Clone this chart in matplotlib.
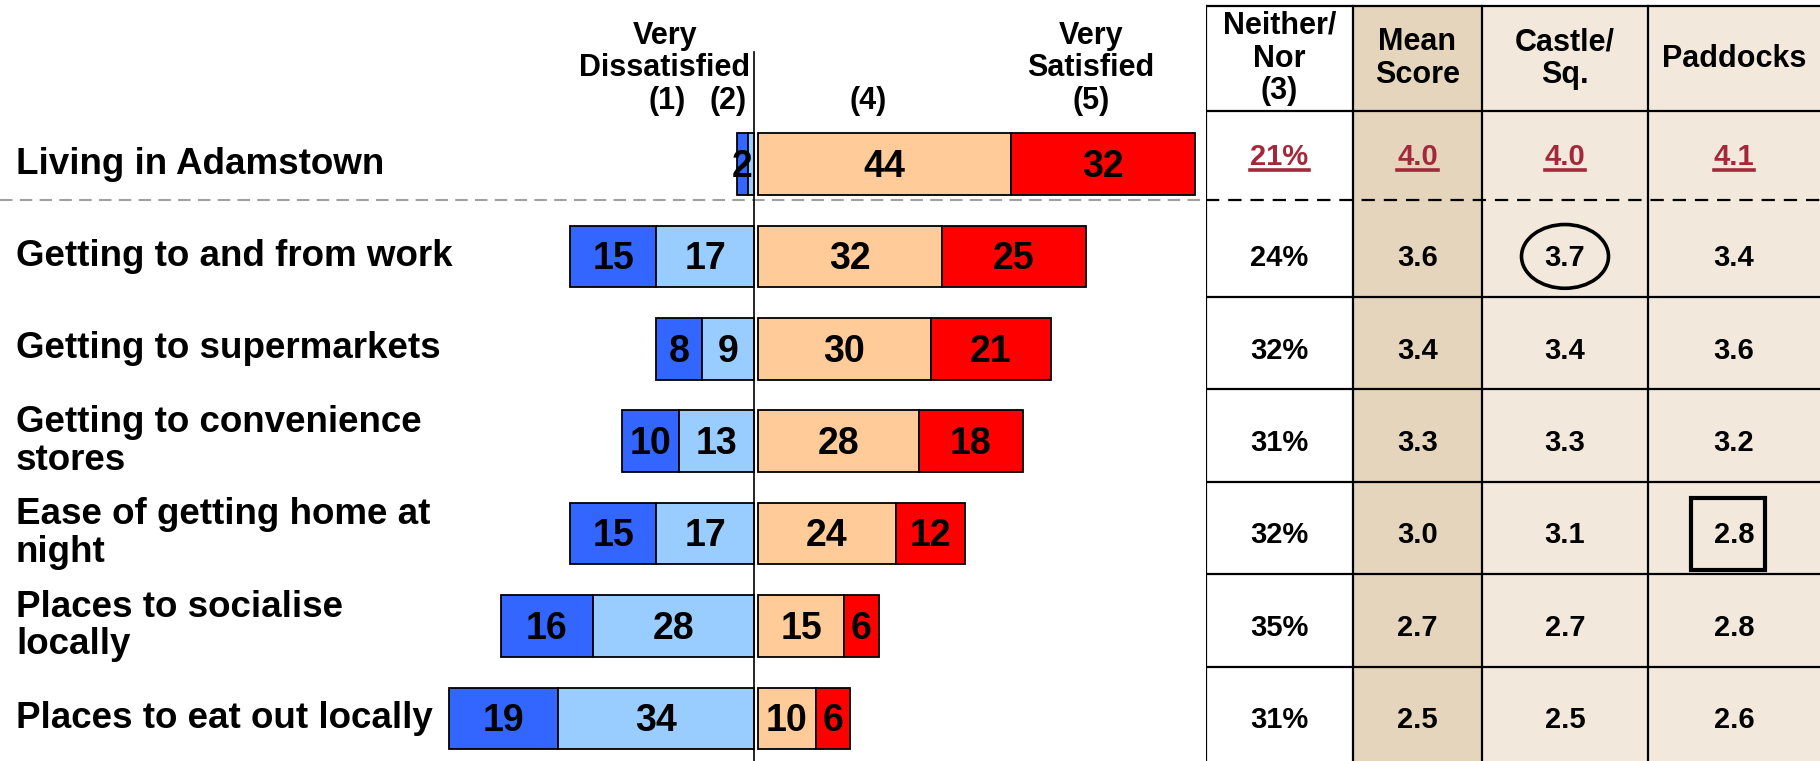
import numpy as np
import matplotlib
matplotlib.use('Agg')
import matplotlib.pyplot as plt
from matplotlib.patches import Rectangle, Ellipse
from matplotlib.lines import Line2D
from matplotlib.transforms import blended_transform_factory

plt.rcParams['font.family'] = ['Liberation Sans', 'DejaVu Sans']
plt.rcParams['font.weight'] = 'bold'

# survey items and answer shares (%)
items = ['Living in Adamstown', 'Getting to and from work', 'Getting to supermarkets',
         'Getting to convenience\nstores', 'Ease of getting home at\nnight',
         'Places to socialise\nlocally', 'Places to eat out locally']
very_dis = [2, 15, 8, 10, 15, 16, 19]
dis = [1, 17, 9, 13, 17, 28, 34]
sat = [44, 32, 30, 28, 24, 15, 10]
very_sat = [32, 25, 21, 18, 12, 6, 6]
# the thin "dissatisfied" sliver on the first row carries no label
dis_labelled = [False, True, True, True, True, True, True]

# table columns
neither = [21, 24, 32, 31, 32, 35, 31]
mean_score = [4.0, 3.6, 3.4, 3.3, 3.0, 2.7, 2.5]
castle = [4.0, 3.7, 3.4, 3.3, 3.1, 2.7, 2.5]
paddocks = [4.1, 3.4, 3.6, 3.2, 2.8, 2.8, 2.6]
col_heads = ['Neither/\nNor\n(3)', 'Mean\nScore', 'Castle/\nSq.', 'Paddocks']

W, H = 1820, 761
fig = plt.figure(figsize=(W / 100, H / 100), dpi=100)

# ---- diverging bars ----
px_unit = 5.75
zero_px = 754
split_px = 1206
ax = fig.add_axes([0, 0, split_px / W, 1])
ax.set_xlim(-zero_px / px_unit, (split_px - zero_px) / px_unit)
ylim = (6.461, -1.775)
ax.set_ylim(*ylim)
ax.axis('off')

n = len(items)
y = np.arange(n)
h = 0.666
gap = 0.7
vd = np.array(very_dis)
d = np.array(dis)
s = np.array(sat)
vs = np.array(very_sat)

segs = [
    (vd, -(vd + d), '#3366FF', [True] * n),
    (d, -d, '#99CCFF', dis_labelled),
    (s, np.full(n, gap), '#FFCC99', [True] * n),
    (vs, gap + s, '#FF0000', [True] * n),
]
for vals, lefts, col, show in segs:
    ax.barh(y, vals, left=lefts, height=h, color=col, edgecolor='black', linewidth=1.3, zorder=2)
    for yi, v, l, sh in zip(y, vals, lefts, show):
        if sh:
            ax.text(l + v / 2, yi + 0.03, str(v), ha='center', va='center',
                    fontsize=27, fontweight='bold', zorder=4)

ax.plot([0, 0], [-1.21, ylim[0]], color='black', lw=1.2, zorder=3)
ax.plot([ax.get_xlim()[0], ax.get_xlim()[1]], [0.39, 0.39], color='#A0A0A0',
        lw=1.5, ls=(0, (6, 3.5)), zorder=1)

tr = blended_transform_factory(ax.transAxes, ax.transData)
for yi, lab in zip(y, items):
    ax.text(16 / split_px, yi, lab, transform=tr, ha='left', va='center',
            fontsize=26.5, fontweight='bold', linespacing=1.1)


def ftext(xp, yp, s, **kw):
    fig.text(xp / W, 1 - yp / H, s, ha='center', va='center', fontweight='bold', **kw)


ftext(665, 52, 'Very\nDissatisfied', fontsize=22, linespacing=1.1)
ftext(667, 101, '(1)', fontsize=22)
ftext(728, 101, '(2)', fontsize=22)
ftext(868, 101, '(4)', fontsize=22)
ftext(1091, 52, 'Very\nSatisfied', fontsize=22, linespacing=1.1)
ftext(1091, 101, '(5)', fontsize=22)

# ---- side table ----
axt = fig.add_axes([split_px / W, 0, (W - split_px) / W, 1])
axt.set_xlim(0, W - split_px)
axt.set_ylim(*ylim)
axt.axis('off')

col_edges = [0, 147, 276, 442, 614]
col_fill = ['white', '#E5D5BC', '#F2E9DC', '#F2E9DC']
top, head_bot = -1.71, -0.574
for j in range(4):
    axt.add_patch(Rectangle((col_edges[j], top), col_edges[j + 1] - col_edges[j],
                            ylim[0] - top, facecolor=col_fill[j], edgecolor='none', zorder=0))
for xe in col_edges[:4]:
    axt.plot([xe, xe], [top, ylim[0]], color='black', lw=1.6, zorder=2)
axt.plot([0, 614], [top, top], color='black', lw=1.6, zorder=2)
axt.plot([0, 614], [head_bot, head_bot], color='black', lw=1.6, zorder=2)
axt.plot([0, 614], [0.39, 0.39], color='black', lw=1.6, ls=(0, (6, 4)), zorder=2)
for i in range(1, n - 1):
    axt.plot([0, 614], [i + 0.44, i + 0.44], color='black', lw=1.6, zorder=2)

centers = [(col_edges[j] + col_edges[j + 1]) / 2 for j in range(4)]
for j, head in enumerate(col_heads):
    axt.text(centers[j], -1.14, head, ha='center', va='center', fontsize=22,
             fontweight='bold', linespacing=1.12)

red = '#A3283A'
first_row = []
for i in range(n):
    cells = [f'{neither[i]}%', f'{mean_score[i]:.1f}', f'{castle[i]:.1f}', f'{paddocks[i]:.1f}']
    for j, c in enumerate(cells):
        yy = i - 0.08 if i == 0 else i + 0.02
        t = axt.text(centers[j], yy, c, ha='center', va='center', fontsize=21,
                     fontweight='bold', color=red if i == 0 else 'black', zorder=4)
        if i == 0:
            first_row.append(t)

# highlight marks
axt.add_patch(Ellipse((centers[2], 1), 87, 0.69, facecolor='none', edgecolor='black', lw=2.6, zorder=5))
axt.add_patch(Rectangle((centers[3] - 6 - 37, 4 - 0.39), 74, 0.78, facecolor='none',
                        edgecolor='black', lw=3, zorder=5))

# underline first-row figures
fig.canvas.draw()
for t in first_row:
    bb = t.get_window_extent()
    fig.add_artist(Line2D([bb.x0 / W, bb.x1 / W], [(bb.y0 + 0.5) / H] * 2,
                          transform=fig.transFigure, color=red, lw=2.6))

fig.savefig('out.png', dpi=100)
